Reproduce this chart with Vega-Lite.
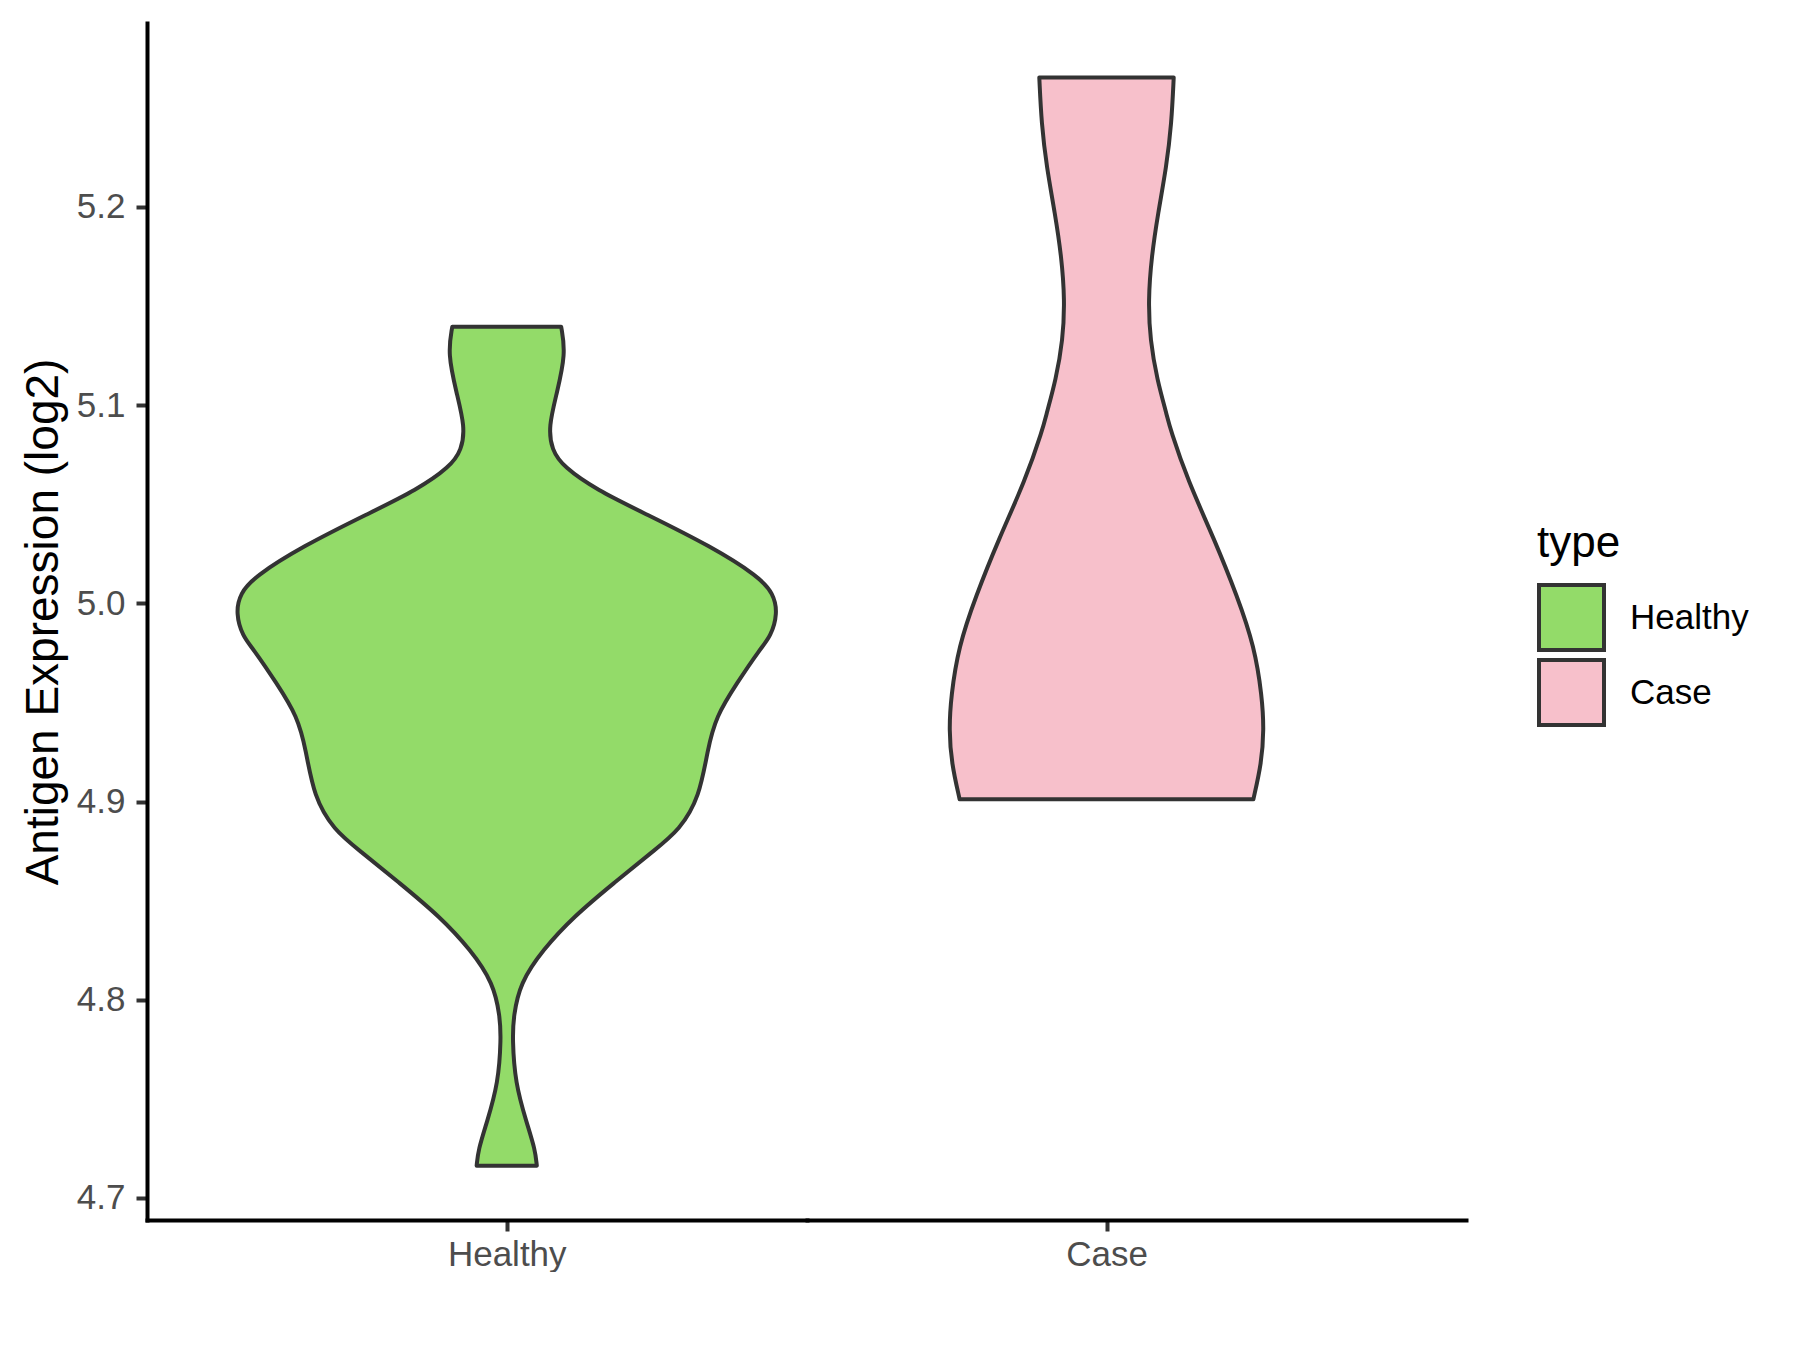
{
  "$schema": "https://vega.github.io/schema/vega-lite/v6.json",
  "background": "white",
  "padding": {"left": 20, "top": 23, "right": 0, "bottom": 0},
  "autosize": {"type": "pad"},
  "data": {
    "values": [
      {"type": "Healthy", "value": 4.7163, "density": 0.111},
      {"type": "Healthy", "value": 4.7244, "density": 0.105},
      {"type": "Healthy", "value": 4.7378, "density": 0.074},
      {"type": "Healthy", "value": 4.758, "density": 0.031},
      {"type": "Healthy", "value": 4.7807, "density": 0.021},
      {"type": "Healthy", "value": 4.7916, "density": 0.025},
      {"type": "Healthy", "value": 4.8084, "density": 0.049},
      {"type": "Healthy", "value": 4.8252, "density": 0.133},
      {"type": "Healthy", "value": 4.842, "density": 0.247},
      {"type": "Healthy", "value": 4.8589, "density": 0.395},
      {"type": "Healthy", "value": 4.8756, "density": 0.546},
      {"type": "Healthy", "value": 4.8857, "density": 0.638},
      {"type": "Healthy", "value": 4.9025, "density": 0.712},
      {"type": "Healthy", "value": 4.9261, "density": 0.741},
      {"type": "Healthy", "value": 4.9429, "density": 0.772},
      {"type": "Healthy", "value": 4.9597, "density": 0.849},
      {"type": "Healthy", "value": 4.9774, "density": 0.937},
      {"type": "Healthy", "value": 4.9832, "density": 0.974},
      {"type": "Healthy", "value": 4.995, "density": 1.0},
      {"type": "Healthy", "value": 5.0051, "density": 0.984},
      {"type": "Healthy", "value": 5.0135, "density": 0.93},
      {"type": "Healthy", "value": 5.0286, "density": 0.756},
      {"type": "Healthy", "value": 5.0454, "density": 0.509},
      {"type": "Healthy", "value": 5.0572, "density": 0.332},
      {"type": "Healthy", "value": 5.0689, "density": 0.209},
      {"type": "Healthy", "value": 5.0774, "density": 0.166},
      {"type": "Healthy", "value": 5.0891, "density": 0.154},
      {"type": "Healthy", "value": 5.106, "density": 0.185},
      {"type": "Healthy", "value": 5.1261, "density": 0.218},
      {"type": "Healthy", "value": 5.1395, "density": 0.201},
      {"type": "Case", "value": 4.9012, "density": 0.542},
      {"type": "Case", "value": 4.9194, "density": 0.572},
      {"type": "Case", "value": 4.9362, "density": 0.581},
      {"type": "Case", "value": 4.953, "density": 0.574},
      {"type": "Case", "value": 4.9782, "density": 0.546},
      {"type": "Case", "value": 5.0034, "density": 0.483},
      {"type": "Case", "value": 5.032, "density": 0.399},
      {"type": "Case", "value": 5.0623, "density": 0.299},
      {"type": "Case", "value": 5.0875, "density": 0.236},
      {"type": "Case", "value": 5.0959, "density": 0.221},
      {"type": "Case", "value": 5.1127, "density": 0.187},
      {"type": "Case", "value": 5.1328, "density": 0.161},
      {"type": "Case", "value": 5.153, "density": 0.154},
      {"type": "Case", "value": 5.1748, "density": 0.166},
      {"type": "Case", "value": 5.1967, "density": 0.19},
      {"type": "Case", "value": 5.2202, "density": 0.221},
      {"type": "Case", "value": 5.2421, "density": 0.24},
      {"type": "Case", "value": 5.2653, "density": 0.248}
    ]
  },
  "spacing": 0,
  "hconcat": [
    {
      "width": 660,
      "height": 1197,
      "transform": [{"filter": "datum.type === 'Healthy'"}],
      "mark": {"type": "area", "orient": "horizontal", "interpolate": "basis", "stroke": "#333333", "strokeWidth": 4, "strokeJoin": "round", "opacity": 1, "fillOpacity": 1},
      "encoding": {
        "y": {
          "field": "value", "type": "quantitative",
          "scale": {"domain": [4.6889, 5.2928], "nice": false, "zero": false},
          "axis": {"values": [4.7, 4.8, 4.9, 5.0, 5.1, 5.2], "format": ".1f", "title": "Antigen Expression (log2)"}
        },
        "x": {
          "field": "density", "type": "quantitative", "stack": "center", "impute": null,
          "scale": {"domain": [-0.1637, 1.054], "nice": false, "zero": false},
          "axis": {"values": [0.5], "labelExpr": "'Healthy'", "title": null}
        },
        "color": {
          "field": "type", "type": "nominal",
          "scale": {"domain": ["Healthy", "Case"], "range": ["#93DB69", "#F7C0CB"]},
          "legend": {"title": "type", "orient": "none", "legendX": 1390, "legendY": 499, "symbolType": "square", "symbolSize": 4225, "symbolStrokeColor": "#333333", "symbolStrokeWidth": 4, "symbolFillOpacity": 1, "symbolOpacity": 1, "labelOffset": 24, "rowPadding": -13, "titlePadding": 17}
        }
      }
    },
    {
      "width": 659,
      "height": 1197,
      "transform": [{"filter": "datum.type === 'Case'"}],
      "mark": {"type": "area", "orient": "horizontal", "interpolate": "basis", "stroke": "#333333", "strokeWidth": 4, "strokeJoin": "round", "opacity": 1, "fillOpacity": 1},
      "encoding": {
        "y": {
          "field": "value", "type": "quantitative",
          "scale": {"domain": [4.6889, 5.2928], "nice": false, "zero": false},
          "axis": null
        },
        "x": {
          "field": "density", "type": "quantitative", "stack": "center", "impute": null,
          "scale": {"domain": [-0.2621, 0.9538], "nice": false, "zero": false},
          "axis": {"values": [0.2905], "labelExpr": "'Case'", "title": null}
        },
        "color": {
          "field": "type", "type": "nominal",
          "scale": {"domain": ["Healthy", "Case"], "range": ["#93DB69", "#F7C0CB"]}
        }
      }
    }
  ],
  "resolve": {"scale": {"x": "independent", "y": "independent", "color": "shared"}},
  "config": {
    "view": {"stroke": null},
    "font": "Liberation Sans",
    "axis": {
      "grid": false, "domainColor": "#000000", "domainWidth": 4, "domainCap": "square",
      "tickColor": "#333333", "tickWidth": 4, "tickSize": 11,
      "labelFont": "Liberation Sans", "labelFontSize": 35, "labelColor": "#4D4D4D",
      "titleFont": "Liberation Sans", "titleFontSize": 46, "titleFontWeight": "normal", "titleColor": "#000000",
      "labelFlush": false, "labelAngle": 0, "labelPadding": 11, "titlePadding": 9
    },
    "axisX": {"labelPadding": 6},
    "legend": {
      "titleFont": "Liberation Sans", "titleFontSize": 44, "titleFontWeight": "normal", "titleColor": "#000000",
      "labelFont": "Liberation Sans", "labelFontSize": 35, "labelColor": "#000000", "padding": 0
    }
  }
}
